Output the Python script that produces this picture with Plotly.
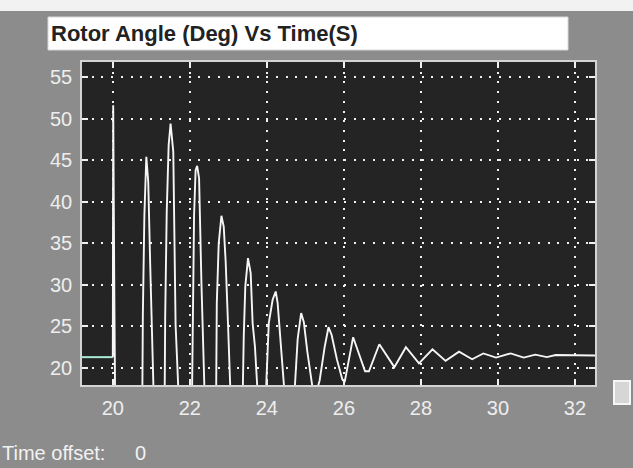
import plotly.graph_objects as go

# Rotor angle response of the machine after the disturbance at t = 20 s
prefault_time = [19.2, 20.0]
prefault_angle = [21.3, 21.3]

time_s = [
    20.00, 20.01, 20.04, 20.07, 20.42,
    20.76, 20.78, 20.82, 20.87, 20.92, 20.97, 21.03, 21.19,
    21.34, 21.36, 21.40, 21.45, 21.50, 21.57, 21.63, 21.70, 21.88,
    22.05, 22.07, 22.11, 22.15, 22.19, 22.24, 22.30, 22.40, 22.55,
    22.68, 22.70, 22.75, 22.82, 22.88, 22.93, 22.99, 23.07, 23.23,
    23.37, 23.40, 23.44, 23.51, 23.58, 23.63, 23.69, 23.76, 23.87,
    23.98, 24.05, 24.15, 24.23, 24.28, 24.34, 24.45, 24.59,
    24.73, 24.80, 24.89, 24.96, 25.05, 25.18, 25.28,
    25.37, 25.50, 25.60, 25.68, 25.82, 25.96, 26.02,
    26.24, 26.55, 26.65, 26.92, 27.31, 27.61, 27.95, 28.30, 28.64,
    28.99, 29.33, 29.62, 29.95, 30.33, 30.67, 30.97, 31.27, 31.50, 32.60,
]
angle_deg = [
    21.3, 51.6, 28.5, 10.0, -10.0,
    12.0, 26.4, 38.4, 45.4, 42.4, 32.6, 14.0, -6.0,
    12.0, 26.2, 38.8, 46.8, 49.4, 46.0, 25.2, 12.0, -2.0,
    14.0, 25.4, 38.4, 43.8, 44.3, 42.8, 30.4, 14.0, 3.0,
    15.0, 27.8, 35.0, 38.3, 37.0, 32.8, 25.4, 15.0, 8.0,
    16.0, 23.8, 29.8, 33.2, 31.4, 25.4, 22.6, 17.0, 12.0,
    17.5, 25.4, 28.2, 29.2, 27.8, 23.8, 17.5, 15.0,
    18.0, 23.5, 26.6, 25.5, 22.0, 17.8, 17.0,
    18.5, 22.5, 24.9, 24.0, 21.0, 18.6, 18.3,
    23.7, 19.6, 19.6, 22.85, 20.1, 22.5, 20.55, 22.25, 20.85,
    21.95, 21.05, 21.75, 21.25, 21.75, 21.25, 21.6, 21.3, 21.55, 21.5,
]

x_ticks = [20, 22, 24, 26, 28, 30, 32]
y_ticks = [20, 25, 30, 35, 40, 45, 50, 55]

TITLE = "Rotor Angle (Deg) Vs Time(S)"

W, H = 633, 468
L, R, T, B = 82, 595, 62, 385
FONT = "Liberation Sans, Arial, sans-serif"


def px_x(x):
    return (x - L) / (R - L)


def px_y(y):
    return (B - y) / (B - T)


fig = go.Figure()
fig.add_trace(go.Scatter(
    x=prefault_time, y=prefault_angle, mode="lines",
    line=dict(color="#a8ecd8", width=2), hoverinfo="skip", showlegend=False,
))
fig.add_trace(go.Scatter(
    x=time_s, y=angle_deg, mode="lines",
    line=dict(color="#f6f6f6", width=1.9), showlegend=False,
))

axis_common = dict(
    showline=True, linecolor="#d4d4d4", linewidth=1.5, mirror="allticks",
    ticks="inside", ticklen=6, tickwidth=1.5, tickcolor="#f0f0f0",
    showgrid=True, gridcolor="#f0f0f0", gridwidth=1.8, griddash="2px,7.7px",
    zeroline=False,
    tickfont=dict(family=FONT, size=20, color="#eeeeee"),
)

fig.update_xaxes(range=[19.2, 32.52], tickvals=x_ticks,
                 ticktext=[str(v) for v in x_ticks], ticklabelstandoff=4,
                 **axis_common)
fig.update_yaxes(range=[17.95, 56.8], tickvals=y_ticks,
                 ticktext=[str(v) for v in y_ticks], ticklabelstandoff=4,
                 **axis_common)

shapes = [
    # light strip along the top edge of the window
    dict(type="rect", xref="paper", yref="paper", layer="below",
         x0=px_x(0), x1=px_x(W), y0=px_y(11), y1=px_y(-2),
         fillcolor="#f2f2f2", line=dict(width=0)),
    # white title box
    dict(type="rect", xref="paper", yref="paper",
         x0=px_x(48), x1=px_x(568), y0=px_y(50), y1=px_y(17),
         fillcolor="#ffffff", line=dict(color="#d8d8d8", width=1)),
    # small scope icon at the lower right
    dict(type="rect", xref="paper", yref="paper",
         x0=px_x(614), x1=px_x(630), y0=px_y(404), y1=px_y(381),
         fillcolor="#d6d6d6", line=dict(color="#f6f6f6", width=2)),
]

annotations = [
    dict(text="<b>" + TITLE + "</b>", xref="paper", yref="paper",
         x=px_x(49), y=px_y(33), xanchor="left", yanchor="middle",
         showarrow=False,
         font=dict(family=FONT, size=22, color="#222222")),
    dict(text="Time offset:", xref="paper", yref="paper",
         x=px_x(0), y=px_y(453), xanchor="left", yanchor="middle",
         showarrow=False,
         font=dict(family=FONT, size=20, color="#f2f2f2")),
    dict(text="0", xref="paper", yref="paper",
         x=px_x(133), y=px_y(453), xanchor="left", yanchor="middle",
         showarrow=False,
         font=dict(family=FONT, size=20, color="#f2f2f2")),
]

fig.update_layout(
    width=W, height=H,
    margin=dict(l=L, r=W - R, t=T, b=H - B, pad=0),
    paper_bgcolor="#8c8c8c",
    plot_bgcolor="#242424",
    shapes=shapes,
    annotations=annotations,
    showlegend=False,
)

fig.write_html("out.html")
